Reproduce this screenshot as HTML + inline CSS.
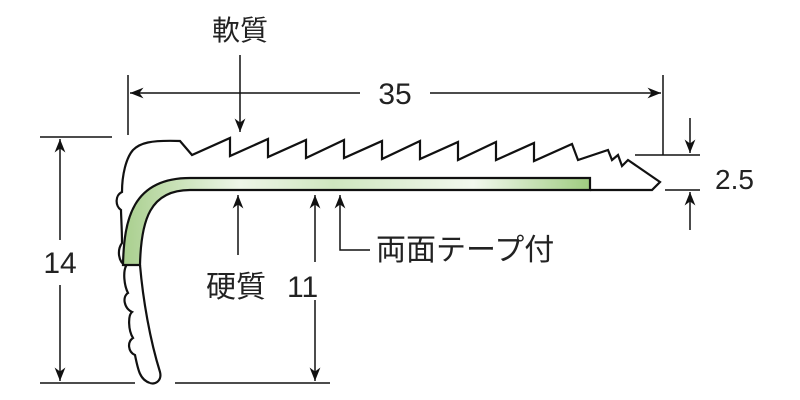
<!DOCTYPE html>
<html><head><meta charset="utf-8"><style>
html,body{margin:0;padding:0;background:#fff;width:800px;height:400px;overflow:hidden}
text{font-family:"Liberation Sans","Noto Sans CJK JP",sans-serif;fill:#222}
</style></head><body>
<svg width="800" height="400" viewBox="0 0 800 400" xmlns="http://www.w3.org/2000/svg">
<defs>
<marker id="a" viewBox="0 0 10 10" refX="10" refY="5" markerWidth="9" markerHeight="9" orient="auto-start-reverse"><path d="M0,1 L10,5 L0,9 L3,5 Z" fill="#111"/></marker>
<linearGradient id="g" x1="0" x2="1" y1="0" y2="0">
<stop offset="0" stop-color="#a9cf8e"/><stop offset="0.25" stop-color="#eef6e8"/><stop offset="0.45" stop-color="#cfe6bf"/><stop offset="0.75" stop-color="#f2f8ee"/><stop offset="1" stop-color="#9fcc80"/></linearGradient>
</defs>
<g stroke="#111" stroke-width="2.2" fill="none" stroke-linejoin="miter">
<path d="M150,383 C140,380 138,370 135,355 C128,352 127,342 133,338 C128,330 128,315 132,312 C124,308 122,297 128,293 C124,285 123,272 126,266 C118,262 117,250 122,243 C122,230 121,215 121,210 C115,206 115,195 122,192 C122,175 126,158 133,150 C140,143 150,140 180,141 L192,155 L230,138 L230,156 L268,139 L268,157 L306,140 L306,158 L344,140 L344,158 L382,141 L382,159 L420,141 L420,159 L458,142 L458,160 L496,142 L496,160 L534,143 L534,161 L572,144 L578,160 L608,150 L612,160 L618,155 L622,166 L628,160 L660,182 L652,190 L590,190"/>
<path d="M140,265 C143,300 150,340 160,372 C162,380 156,385 150,383"/>
<path d="M123,265 C124,220 132,178 190,178 L590,178 L590,190 L190,190 C150,190 141,220 140,265 Z" fill="url(#g)"/>
</g>
<g stroke="#111" stroke-width="1.5" fill="none">
<line x1="128" y1="75" x2="128" y2="135"/><line x1="663" y1="75" x2="663" y2="155"/>
<line x1="360" y1="93" x2="130" y2="93" marker-end="url(#a)"/>
<line x1="430" y1="93" x2="661" y2="93" marker-end="url(#a)"/>
<line x1="40" y1="137" x2="112" y2="137"/><line x1="40" y1="383" x2="135" y2="383"/>
<line x1="60" y1="240" x2="60" y2="139" marker-end="url(#a)"/>
<line x1="60" y1="285" x2="60" y2="381" marker-end="url(#a)"/>
<line x1="175" y1="383" x2="330" y2="383"/>
<line x1="315" y1="262" x2="315" y2="195" marker-end="url(#a)"/>
<line x1="315" y1="300" x2="315" y2="381" marker-end="url(#a)"/>
<line x1="240" y1="55" x2="240" y2="132" marker-end="url(#a)"/>
<line x1="238" y1="255" x2="238" y2="195" marker-end="url(#a)"/>
<polyline points="370,250 340,250 340,195" marker-end="url(#a)"/>
<line x1="635" y1="155" x2="700" y2="155"/><line x1="665" y1="190" x2="700" y2="190"/>
<line x1="690" y1="118" x2="690" y2="153" marker-end="url(#a)"/>
<line x1="690" y1="230" x2="690" y2="192" marker-end="url(#a)"/>
</g>
<text x="240" y="40" font-size="28" text-anchor="middle">軟質</text>
<text x="395" y="104" font-size="30" text-anchor="middle">35</text>
<text x="60" y="273" font-size="30" text-anchor="middle">14</text>
<text x="206" y="297" font-size="30">硬質</text>
<text x="287" y="297" font-size="30">11</text>
<text x="376" y="260" font-size="30">両面テープ付</text>
<text x="715" y="189" font-size="28">2.5</text>
</svg>
</body></html>
